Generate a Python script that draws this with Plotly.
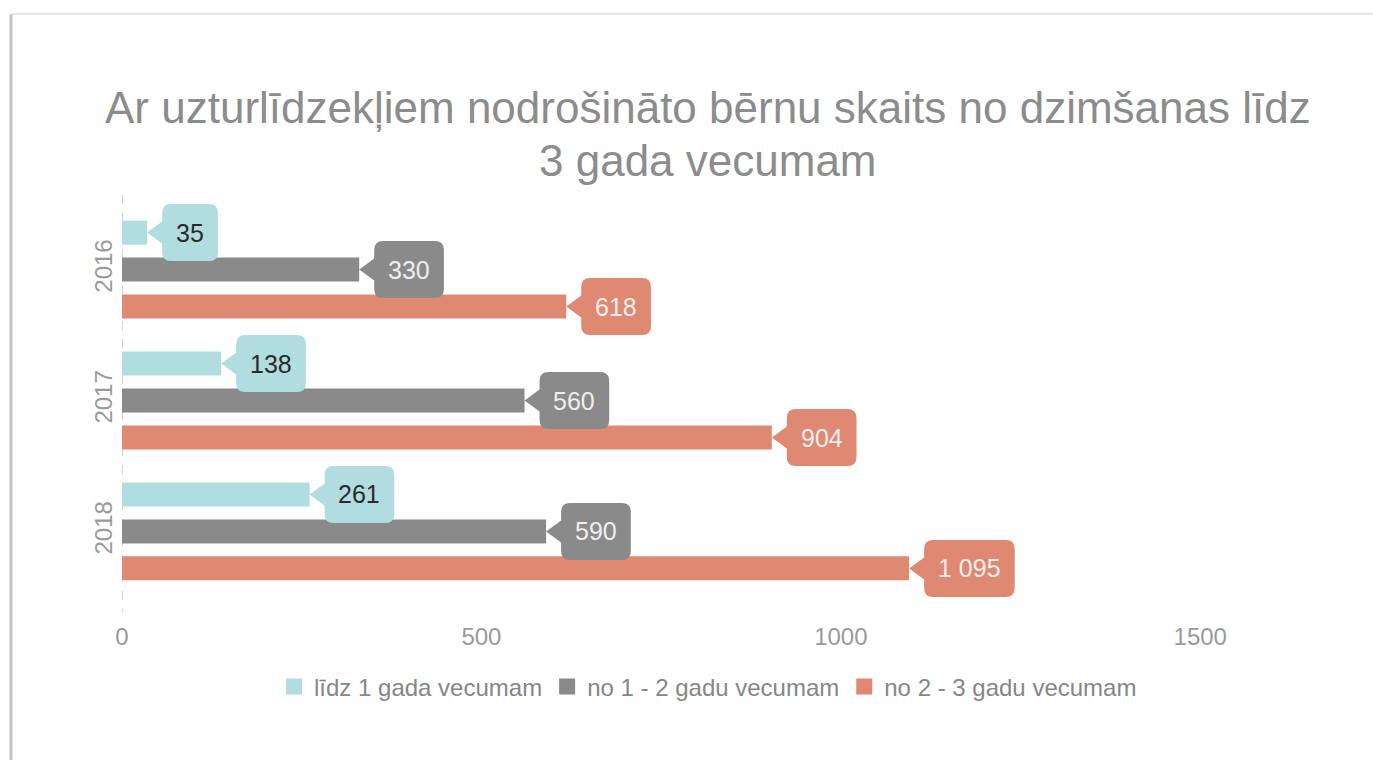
import plotly.graph_objects as go

years = ["2016", "2017", "2018"]
year_pos = [0, 1, 2]
series_names = ["līdz 1 gada vecumam", "no 1 - 2 gadu vecumam", "no 2 - 3 gadu vecumam"]
v_lidz1 = [35, 138, 261]
v_1_2 = [330, 560, 590]
v_2_3 = [618, 904, 1095]
label_lidz1 = ["35", "138", "261"]
label_1_2 = ["330", "560", "590"]
label_2_3 = ["618", "904", "1 095"]
title_lines = ["Ar uzturlīdzekļiem nodrošināto bērnu skaits no dzimšanas līdz", "3 gada vecumam"]

colors = ["#b2dde0", "#8a8a8a", "#df8872"]
text_colors = ["#2b2b2b", "#eeeeee", "#eeeeee"]

W, H = 1373, 760
ML, MR, MT, MB = 122, 29, 195, 154
PW, PH = W - ML - MR, H - MT - MB

fig = go.Figure()
all_vals = [v_lidz1, v_1_2, v_2_3]
all_labels = [label_lidz1, label_1_2, label_2_3]
for name, vals, col in zip(series_names, all_vals, colors):
    fig.add_trace(go.Bar(y=year_pos, x=vals, orientation="h", name=name,
                         marker=dict(color=col, line=dict(width=0)),
                         showlegend=False, hoverinfo="skip"))
for name, col in zip(series_names, colors):
    fig.add_trace(go.Scatter(x=[None], y=[None], mode="markers", name=name,
                             marker=dict(symbol="square", size=22, color=col)))

def text_width(s, fs):
    w = 0
    for ch in s:
        w += 0.278 * fs if ch == " " else 0.556 * fs
    return w

def px2x(px):
    return (px - ML) / PW

def py2y(py):
    return (H - MB - py) / PH

shapes = []
annotations = []
FS = 25
p, t, BH, r = 15, 11, 57, 9
offsets = [37, 0, -37]
for vals, labels, col, tcol, dy in zip(all_vals, all_labels, colors, text_colors, offsets):
    for yp, v, lab in zip(year_pos, vals, labels):
        w = text_width(lab, FS) + 28
        h2 = BH / 2

        def P(x, y, dy=dy):
            return f"{x:.1f},{y + dy:.1f}"
        path = (f"M{P(0,0)} L{P(p,t)} L{P(p,h2-r)} Q{P(p,h2)} {P(p+r,h2)} "
                f"L{P(p+w-r,h2)} Q{P(p+w,h2)} {P(p+w,h2-r)} L{P(p+w,-h2+r)} "
                f"Q{P(p+w,-h2)} {P(p+w-r,-h2)} L{P(p+r,-h2)} Q{P(p,-h2)} {P(p,-h2+r)} "
                f"L{P(p,-t)} Z")
        shapes.append(dict(type="path", xref="x", yref="y", xsizemode="pixel", ysizemode="pixel",
                           xanchor=v, yanchor=yp, path=path, fillcolor=col, line=dict(width=0),
                           layer="above"))
        annotations.append(dict(x=v, y=yp, xref="x", yref="y", text=lab, showarrow=False,
                                xshift=p + w / 2, yshift=dy,
                                font=dict(size=FS, color=tcol, family="Liberation Sans, Arial")))

# title (two lines, as text)
for line, cy in zip(title_lines, [108, 160]):
    annotations.append(dict(x=px2x(708), y=py2y(cy), xref="paper", yref="paper", text=line,
                            showarrow=False, xanchor="center", yanchor="middle",
                            font=dict(size=44, color="#8c8c8c", family="Liberation Sans, Arial")))

# dashed y axis line
shapes.append(dict(type="line", xref="x", yref="paper", x0=0, x1=0, y0=py2y(195), y1=py2y(612),
                   line=dict(color="#b5b5b5", width=1.2, dash="dash"), layer="below"))
# frame
shapes.append(dict(type="line", xref="paper", yref="paper", x0=px2x(11), x1=px2x(11),
                   y0=py2y(14), y1=py2y(760), line=dict(color="#c4c4c4", width=3)))
shapes.append(dict(type="line", xref="paper", yref="paper", x0=px2x(10), x1=px2x(1373),
                   y0=py2y(14), y1=py2y(14), line=dict(color="#e4e4e4", width=2)))

fig.update_layout(
    width=W, height=H,
    margin=dict(l=ML, r=MR, t=MT, b=MB),
    paper_bgcolor="white", plot_bgcolor="white",
    font=dict(family="Liberation Sans, Arial", color="#8a8a8a"),
    barmode="group", bargap=0.153, bargroupgap=0.35,
    xaxis=dict(range=[0, 1700], tickvals=[0, 500, 1000, 1500], showgrid=False, zeroline=False,
               showline=False, ticks="", ticklabelstandoff=14,
               tickfont=dict(size=24, color="#9a9a9a")),
    yaxis=dict(range=[2.57, -0.57], tickvals=year_pos, ticktext=years,
               showgrid=False, zeroline=False, showline=False,
               ticks="", tickangle=-90, ticklabelstandoff=4,
               tickfont=dict(size=24, color="#9a9a9a")),
    legend=dict(orientation="h", x=px2x(708), xanchor="center", y=py2y(687), yanchor="middle",
                font=dict(size=24, color="#868686"), itemwidth=30, traceorder="normal"),
    shapes=shapes, annotations=annotations,
)

fig.write_html("out.html", config={"displayModeBar": False},
               post_script="document.body.style.margin='0';")
